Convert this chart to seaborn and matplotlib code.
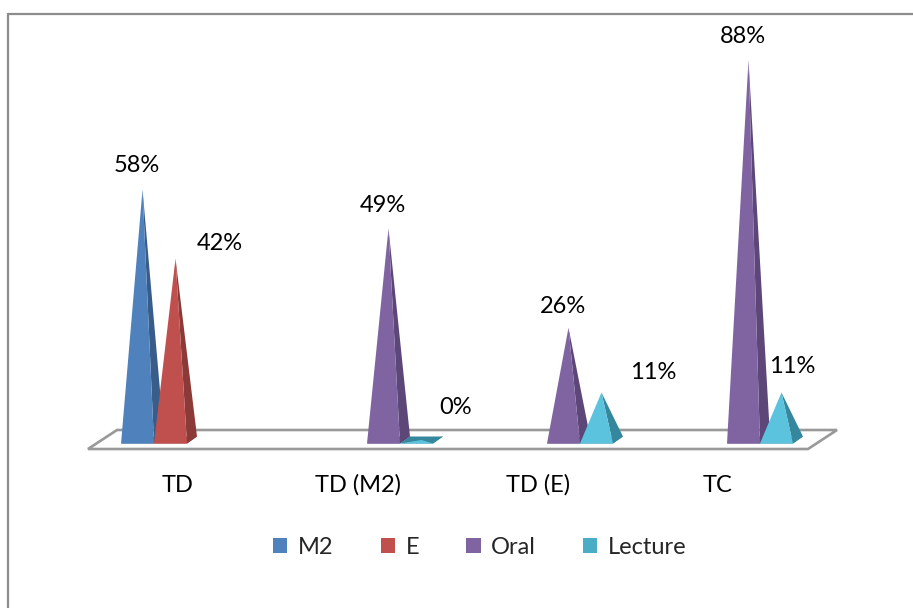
import matplotlib
matplotlib.use("Agg")
import numpy as np
import pandas as pd
import matplotlib.pyplot as plt
import seaborn as sns
from matplotlib.patches import Polygon, Patch
from matplotlib.lines import Line2D
from matplotlib.colors import to_rgba

# ---------------- data ----------------
categories = ["TD", "TD (M2)", "TD (E)", "TC"]
series = ["M2", "E", "Oral", "Lecture"]
m2_values = [58, None, None, None]
e_values = [42, None, None, None]
oral_values = [None, 49, 26, 88]
lecture_values = [None, 0, 11, 11]

# ---------------- style ----------------
front_colors = {"M2": "#4F81BD", "E": "#C0504D", "Oral": "#8064A2", "Lecture": "#5BC3DE"}
side_colors = {"M2": "#385D8A", "E": "#8C3A38", "Oral": "#5C4778", "Lecture": "#34879C"}
legend_colors = {"M2": "#4F81BD", "E": "#C0504D", "Oral": "#8064A2", "Lecture": "#4BACC6"}

# label offsets from pyramid apex, in pixels (x right, y down)
label_offsets_px = {
    ("TD", "M2"): (-5.5, -24), ("TD", "E"): (44.5, -15),
    ("TD (M2)", "Oral"): (-5.5, -23), ("TD (M2)", "Lecture"): (34.5, -32),
    ("TD (E)", "Oral"): (-5.5, -21), ("TD (E)", "Lecture"): (51.5, -19.5),
    ("TC", "Oral"): (-5.5, -23), ("TC", "Lecture"): (10.5, -25.5),
}

rows = []
for s, vals in zip(series, [m2_values, e_values, oral_values, lecture_values]):
    for c, v in zip(categories, vals):
        if v is not None:
            rows.append({"category": c, "series": s, "value": v})
df = pd.DataFrame(rows)

sns.set_theme(style="white")
plt.rcParams["font.family"] = ["Lato", "DejaVu Sans"]
FS = 17

W, H = 913, 608
fig = plt.figure(figsize=(W / 100, H / 100), dpi=100)
ax = fig.add_axes([0, 0, 1, 1])

sns.barplot(data=df, x="category", y="value", hue="series", order=categories,
            hue_order=series, palette=front_colors, dodge=True, width=0.733,
            gap=0, saturation=1, errorbar=None, legend=False, ax=ax)

# pixel -> data scale
PXX = 1 / 180.0
PXY = 1 / 4.32
X0PX, Y0PX = 187.0, 443.5
ax.set_xlim(-X0PX * PXX, (W - X0PX) * PXX)
ax.set_ylim((Y0PX - H) * PXY, Y0PX * PXY)
ax.axis("off")

# floor
fx0 = -0.5 - 9 * PXX
fx1 = len(categories) - 0.5 - 9 * PXX
fy = -5.5 * PXY
ddx, ddy = 29 * PXX, 19 * PXY
floor = Polygon([(fx0, fy), (fx1, fy), (fx1 + ddx, fy + ddy), (fx0 + ddx, fy + ddy)],
                closed=True, facecolor="white", edgecolor="#999999", lw=1.9, zorder=1)
ax.add_patch(floor)

# collect bars and draw pyramids
bars = []
for p in list(ax.patches):
    if p is floor:
        continue
    fc = p.get_facecolor()
    sname = None
    for s in series:
        if np.allclose(fc[:3], to_rgba(front_colors[s])[:3], atol=0.01):
            sname = s
    if sname is None:
        continue
    bars.append((p.get_x(), p.get_width(), p.get_height(), sname))
    p.set_visible(False)
bars.sort(key=lambda b: b[0])

pdx, pdy = 10 * PXX, 7 * PXY
z = 3
for x0, w, h, s in bars:
    FL = (x0, 0)
    FR = (x0 + w, 0)
    BR = (x0 + w + pdx, pdy)
    BL = (x0 + pdx, pdy)
    apex = (x0 + w / 2 + pdx / 2, pdy / 2 + h)
    ax.add_patch(Polygon([FL, FR, BR, BL], closed=True, facecolor=side_colors[s],
                         edgecolor="none", zorder=z))
    ax.add_patch(Polygon([FR, BR, apex], closed=True, facecolor=side_colors[s],
                         edgecolor="none", zorder=z + 0.1))
    ax.add_patch(Polygon([FL, FR, apex], closed=True, facecolor=front_colors[s],
                         edgecolor="none", zorder=z + 0.2))
    z += 1
    cat = categories[int(round(x0 + w / 2))]
    ox, oy = label_offsets_px[(cat, s)]
    ax.text(apex[0] + ox * PXX, apex[1] - oy * PXY, f"{h:.0f}%", ha="center",
            va="center", fontsize=FS, color="black", zorder=50)

# category labels
for i, c in enumerate(categories):
    ax.text(i - 9 * PXX, -41.5 * PXY, c, ha="center", va="center",
            fontsize=FS, color="black")

# legend
handles = [Patch(facecolor=legend_colors[s], edgecolor="none", label=s) for s in series]
fig.legend(handles=handles, loc="center", bbox_to_anchor=(480 / W, 1 - 547 / H),
           ncol=4, frameon=False, handlelength=0.6, handleheight=0.6,
           handletextpad=0.45, columnspacing=2.0, fontsize=FS)

# outer frame (only top and left visible)
fig.add_artist(Line2D([8 / W, 8 / W], [0, 1 - 14 / H], transform=fig.transFigure,
                      color="#8C8C8C", lw=1.6))
fig.add_artist(Line2D([8 / W, 1], [1 - 14 / H, 1 - 14 / H], transform=fig.transFigure,
                      color="#8C8C8C", lw=1.6))

fig.savefig("out.png", dpi=100, facecolor="white")
